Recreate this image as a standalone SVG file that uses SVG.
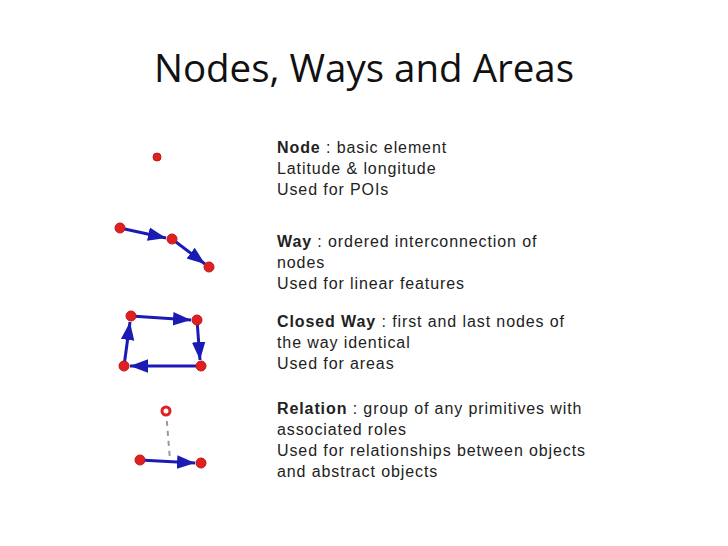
<svg xmlns="http://www.w3.org/2000/svg" width="728" height="546" viewBox="0 0 728 546">
<style>
.t{font-family:"Liberation Sans",Arial,sans-serif;font-size:16px;letter-spacing:0.9px;fill:#222}
.n{fill:#e02020;stroke:#c01818;stroke-width:1}
.e{stroke:#1a1ab4;stroke-width:3;fill:none;marker-end:url(#a)}
</style>
<defs><marker id="a" markerWidth="6" markerHeight="6" refX="8" refY="3" orient="auto" markerUnits="strokeWidth" viewBox="0 0 8 6"><path d="M0,0L8,3L0,6z" fill="#1a1ab4"/></marker></defs>
<rect width="728" height="546" fill="#fff"/>
<text x="364" y="82" text-anchor="middle" style="font-family:'Open Sans','Liberation Sans',sans-serif;font-size:38.5px;fill:#111">Nodes, Ways and Areas</text>
<g id="connectors">
<line class="e" x1="120" y1="228" x2="166" y2="238"/>
<line class="e" x1="172" y1="239" x2="205" y2="264"/>
<line class="e" x1="131" y1="316" x2="191" y2="320"/>
<line class="e" x1="197" y1="320" x2="200" y2="360"/>
<line class="e" x1="201" y1="366" x2="130" y2="366"/>
<line class="e" x1="124" y1="366" x2="130" y2="322"/>
<line x1="166" y1="411" x2="170" y2="460" stroke="#999" stroke-width="2" stroke-dasharray="5,5"/>
<line class="e" x1="140" y1="460" x2="195" y2="463"/>
</g>
<g id="node-point"><circle class="n" cx="157" cy="157" r="4"/></g>
<g id="way-nodes"><circle class="n" cx="120" cy="228" r="5"/><circle class="n" cx="172" cy="239" r="5"/><circle class="n" cx="209" cy="267" r="5"/></g>
<g id="closed-nodes"><circle class="n" cx="131" cy="316" r="5"/><circle class="n" cx="197" cy="320" r="5"/><circle class="n" cx="201" cy="366" r="5"/><circle class="n" cx="124" cy="366" r="5"/></g>
<g id="relation-nodes"><circle cx="166" cy="411" r="4" fill="#fff" stroke="#e02020" stroke-width="3"/><circle class="n" cx="140" cy="460" r="5"/><circle class="n" cx="201" cy="463" r="5"/></g>
<g id="text-node" class="t"><text x="277" y="153"><tspan font-weight="bold">Node</tspan> : basic element</text><text x="277" y="174">Latitude &amp; longitude</text><text x="277" y="195">Used for POIs</text></g>
<g id="text-way" class="t"><text x="277" y="247"><tspan font-weight="bold">Way</tspan> : ordered interconnection of</text><text x="277" y="268">nodes</text><text x="277" y="289">Used for linear features</text></g>
<g id="text-closed" class="t"><text x="277" y="327"><tspan font-weight="bold">Closed Way</tspan> : first and last nodes of</text><text x="277" y="348">the way identical</text><text x="277" y="369">Used for areas</text></g>
<g id="text-relation" class="t"><text x="277" y="414"><tspan font-weight="bold">Relation</tspan> : group of any primitives with</text><text x="277" y="435">associated roles</text><text x="277" y="456">Used for relationships between objects</text><text x="277" y="477">and abstract objects</text></g>
</svg>
